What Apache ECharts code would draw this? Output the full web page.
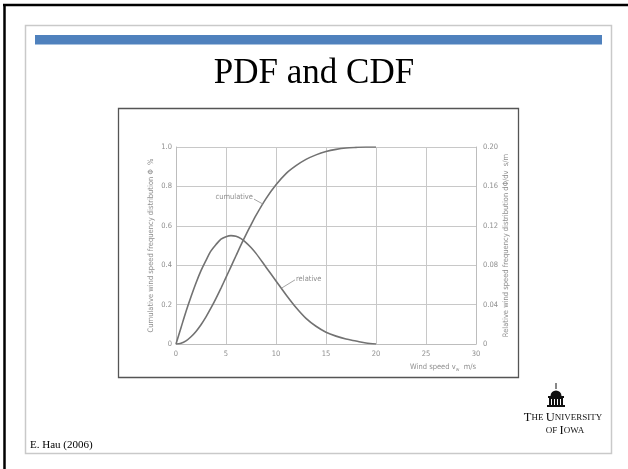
<!DOCTYPE html>
<html><head><meta charset="utf-8">
<script src="https://cdn.jsdelivr.net/npm/echarts@6/dist/echarts.min.js"></script>
<style>html,body{margin:0;padding:0;background:#fff}#c{width:628px;height:469px}</style>
</head><body><div id="c"></div>
<script>
// ---- data ----
const windSpeed = [0,0.5,1,1.5,2,2.5,3,3.5,4,4.5,5,5.5,6,6.5,7,7.5,8,9,10,11,12,13,14,15,16,17,18,19,20];
const cumulative = [0,0.004,0.016,0.037,0.064,0.098,0.138,0.183,0.232,0.284,0.338,0.393,0.448,0.503,0.555,0.605,0.653,0.738,0.808,0.865,0.905,0.937,0.960,0.977,0.988,0.995,0.998,1.0,1.0];
const relative = [0,0.0165,0.033,0.048,0.062,0.0745,0.085,0.0945,0.101,0.1065,0.109,0.110,0.1093,0.107,0.103,0.098,0.092,0.078,0.064,0.050,0.037,0.026,0.018,0.012,0.008,0.005,0.003,0.001,0];
const xTickLabels = ['0','5','10','15','20','25','30'];
const leftTickLabels = ['0','0.2','0.4','0.6','0.8','1.0'];
const rightTickLabels = ['0','0.04','0.08','0.12','0.16','0.20'];
const titleText = 'PDF and CDF';
const leftAxisName = 'Cumulative wind speed frequency distribution \u03A6  %';
const rightAxisName = 'Relative wind speed frequency distribution d\u03A6/dv  s/m';
const sourceText = 'E. Hau (2006)';

const chart = echarts.init(document.getElementById('c'));
const labelFont = {color:'#8e8e8e', fontSize:7.5, fontFamily:'DejaVu Sans Condensed, Liberation Sans Narrow, sans-serif'};
const gridLine = {lineStyle:{color:'#c8c8c8', width:1}};
const curve = {color:'#727272', width:1.6};

chart.setOption({
  backgroundColor:'#fff',
  animation:false,
  title:{text:titleText, left:'center', top:51, itemGap:0,
    textStyle:{fontFamily:'Liberation Serif, Times New Roman, serif', fontWeight:'normal', fontSize:35, color:'#000'}},
  grid:{left:176, top:147, width:300, height:197, containLabel:false},
  xAxis:{type:'value', min:0, max:30, interval:5,
    axisLine:{show:true, onZero:false, lineStyle:{color:'#bdbdbd'}}, axisTick:{show:false},
    splitLine:Object.assign({show:true}, gridLine),
    axisLabel:Object.assign({margin:6, formatter:(v)=>xTickLabels[Math.round(v/5)]}, labelFont)},
  yAxis:[
    {type:'value', min:0, max:1, interval:0.2, position:'left',
      name:leftAxisName, nameLocation:'middle', nameRotate:90, nameGap:21,
      nameTextStyle:labelFont,
      axisLine:{show:true, lineStyle:{color:'#bdbdbd'}}, axisTick:{show:false},
      splitLine:Object.assign({show:true}, gridLine),
      axisLabel:Object.assign({margin:4, formatter:(v)=>leftTickLabels[Math.round(v/0.2)]}, labelFont)},
    {type:'value', min:0, max:0.2, interval:0.04, position:'right',
      name:rightAxisName, nameLocation:'middle', nameRotate:90, nameGap:26,
      nameTextStyle:labelFont,
      axisLine:{show:true, lineStyle:{color:'#bdbdbd'}}, axisTick:{show:false},
      splitLine:{show:false},
      axisLabel:Object.assign({margin:7, formatter:(v)=>rightTickLabels[Math.round(v/0.04)]}, labelFont)}
  ],
  series:[
    {name:'cumulative', type:'line', yAxisIndex:0, showSymbol:false, smooth:0.3,
      data:windSpeed.map((x,i)=>[x,cumulative[i]]), lineStyle:curve, z:5},
    {name:'relative', type:'line', yAxisIndex:1, showSymbol:false, smooth:0.3,
      data:windSpeed.map((x,i)=>[x,relative[i]]), lineStyle:curve, z:5}
  ]
});

// annotation anchors from data coordinates
const pc = chart.convertToPixel({xAxisIndex:0, yAxisIndex:0}, [8.7, 0.71]);
const pr = chart.convertToPixel({xAxisIndex:0, yAxisIndex:1}, [10.6, 0.057]);
const pEnd = chart.convertToPixel({xAxisIndex:0, yAxisIndex:0}, [30, 0]);

const g = [];
// slide frame
g.push({type:'rect', shape:{x:0,y:0,width:628,height:469}, style:{fill:'#fff'}, z:-10, silent:true});
g.push({type:'line', shape:{x1:3,y1:5,x2:628,y2:5}, style:{stroke:'#000', lineWidth:2.5}, z:1});
g.push({type:'line', shape:{x1:4.5,y1:4,x2:4.5,y2:469}, style:{stroke:'#000', lineWidth:2.5}, z:1});
g.push({type:'rect', shape:{x:25.5,y:25.5,width:586,height:428}, style:{fill:null, stroke:'#c9c9c9', lineWidth:1.5}, z:1});
g.push({type:'rect', shape:{x:35,y:35,width:567,height:9.5}, style:{fill:'#4f81bd'}, z:1});
// chart image box
g.push({type:'rect', shape:{x:118.5,y:108.5,width:400,height:269}, style:{fill:null, stroke:'#555', lineWidth:1.3}, z:1});
// curve labels
g.push({type:'text', x:pc[0]-10, y:pc[1]-7, style:{text:'cumulative', align:'right', verticalAlign:'middle', fill:'#8e8e8e', font:'7.5px "DejaVu Sans Condensed", sans-serif'}, z:6});
g.push({type:'line', shape:{x1:pc[0]-9, y1:pc[1]-5, x2:pc[0], y2:pc[1]}, style:{stroke:'#8e8e8e', lineWidth:0.8}, z:6});
g.push({type:'text', x:pr[0]+14, y:pr[1]-9, style:{text:'relative', align:'left', verticalAlign:'middle', fill:'#8e8e8e', font:'7.5px "DejaVu Sans Condensed", sans-serif'}, z:6});
g.push({type:'line', shape:{x1:pr[0], y1:pr[1], x2:pr[0]+13, y2:pr[1]-8}, style:{stroke:'#8e8e8e', lineWidth:0.8}, z:6});
// x-axis name
g.push({type:'text', x:pEnd[0], y:pEnd[1]+23, style:{text:'Wind speed v{s|w}  m/s', align:'right', verticalAlign:'middle',
  rich:{s:{fontSize:5, fill:'#8e8e8e', padding:[5,0,0,0], fontFamily:'DejaVu Sans Condensed'}},
  fill:'#8e8e8e', font:'7.5px "DejaVu Sans Condensed", sans-serif'}, z:6});
// source
g.push({type:'text', x:30, y:445, style:{text:sourceText, align:'left', verticalAlign:'middle', fill:'#000', font:'11px "Liberation Serif", serif'}, z:6});
// University logo (Old Capitol icon)
g.push({type:'line', shape:{x1:556,y1:383,x2:556,y2:389}, style:{stroke:'#111', lineWidth:1}, z:6});
g.push({type:'sector', shape:{cx:556,cy:396,r0:0,r:5.5,startAngle:Math.PI,endAngle:Math.PI*2}, style:{fill:'#111'}, z:6});
g.push({type:'rect', shape:{x:548,y:396,width:16,height:2}, style:{fill:'#111'}, z:6});
g.push({type:'rect', shape:{x:549,y:398,width:14,height:8}, style:{fill:'#111'}, z:6});
g.push({type:'rect', shape:{x:551,y:399,width:1,height:6}, style:{fill:'#fff'}, z:7});
g.push({type:'rect', shape:{x:554,y:399,width:1,height:6}, style:{fill:'#fff'}, z:7});
g.push({type:'rect', shape:{x:557,y:399,width:1,height:6}, style:{fill:'#fff'}, z:7});
g.push({type:'rect', shape:{x:560,y:399,width:1,height:6}, style:{fill:'#fff'}, z:7});
g.push({type:'rect', shape:{x:547,y:405,width:18,height:2}, style:{fill:'#111'}, z:6});
g.push({type:'text', x:563, y:418, style:{text:'{b|T}{s|HE }{b|U}{s|NIVERSITY}', align:'center', verticalAlign:'middle',
  rich:{b:{fontSize:12.5, fontFamily:'Liberation Serif', fill:'#111'}, s:{fontSize:9, fontFamily:'Liberation Serif', fill:'#111'}}}, z:6});
g.push({type:'text', x:565, y:431, style:{text:'{s|OF }{b|I}{s|OWA}', align:'center', verticalAlign:'middle',
  rich:{b:{fontSize:12.5, fontFamily:'Liberation Serif', fill:'#111'}, s:{fontSize:9, fontFamily:'Liberation Serif', fill:'#111'}}}, z:6});

chart.setOption({graphic:g});
</script></body></html>
